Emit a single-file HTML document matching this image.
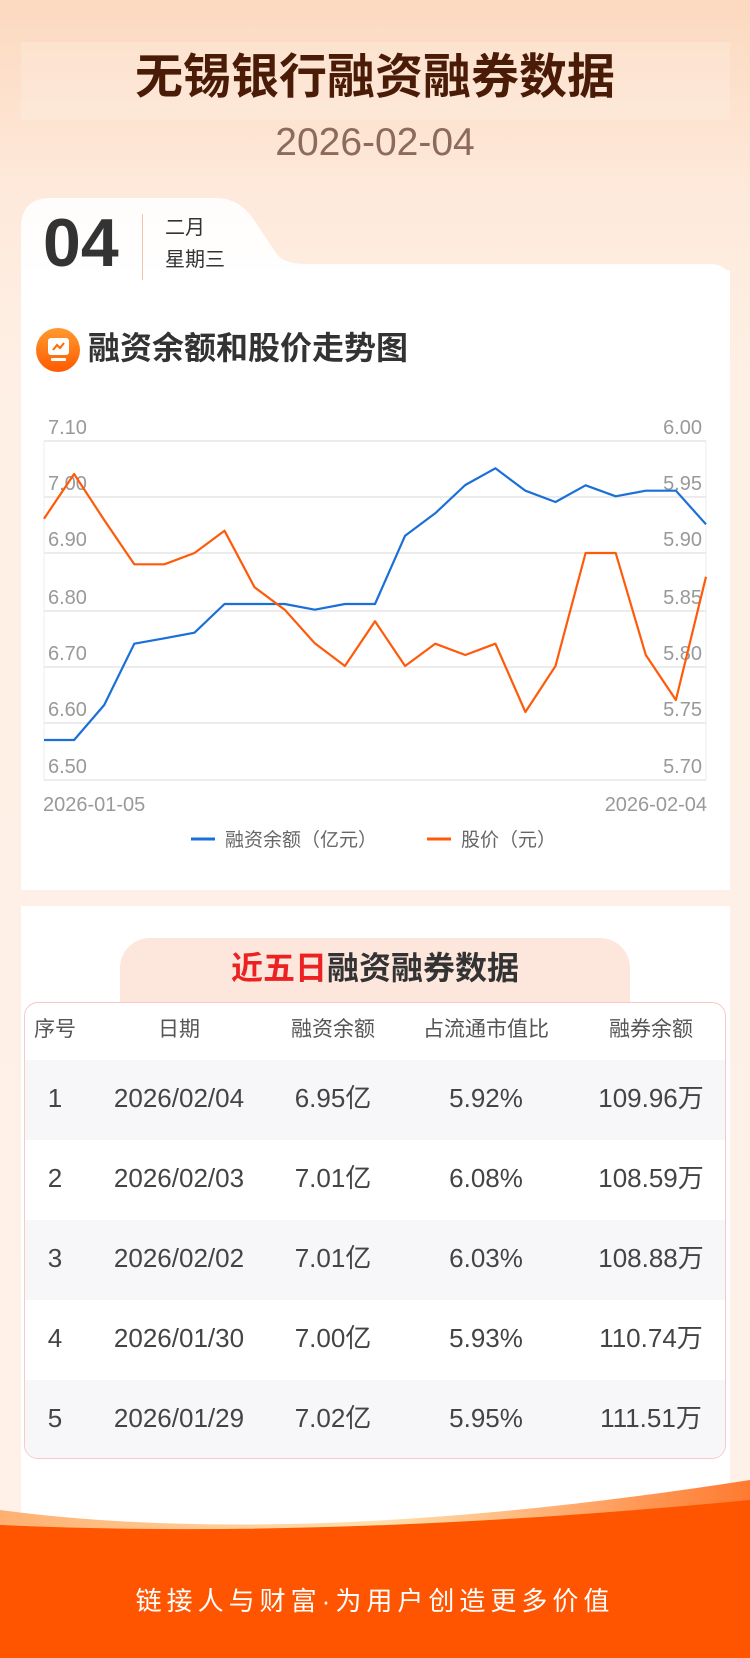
<!DOCTYPE html>
<html><head><meta charset="utf-8">
<style>
*{margin:0;padding:0;box-sizing:border-box}
body{width:750px;height:1658px;position:relative;overflow:hidden;font-family:"Liberation Sans","Noto Sans CJK SC",sans-serif;background:linear-gradient(180deg,#fcd9bf 0%,#feeadc 12%,#fff0e6 25%,#fff1e8 100%)}
.a{position:absolute}
.t{white-space:nowrap}
</style></head><body>
<div class="a" style="left:21px;top:42px;width:709px;height:78px;background:rgba(255,255,255,0.18)"></div>
<div class="a t" style="left:0;width:750px;top:50px;text-align:center;font-size:48px;font-weight:bold;color:#4a1c08;line-height:56px">无锡银行融资融券数据</div>
<div class="a t" style="left:0;width:750px;top:121px;text-align:center;font-size:39px;color:#8c6a5c;line-height:44px">2026-02-04</div>

<!-- date tab -->
<svg class="a" style="left:21px;top:198px" width="709" height="100">
<defs><linearGradient id="tg" x1="0" y1="0" x2="0" y2="1"><stop offset="0" stop-color="#fff" stop-opacity="0.9"/><stop offset="1" stop-color="#fff" stop-opacity="1"/></linearGradient></defs>
<path d="M0,30 Q0,0 30,0 L195,0 Q220,0 235,25 L255,55 Q262,66 285,66 L689,66 Q709,66 709,86 L709,100 L0,100 Z" fill="url(#tg)"/>
</svg>
<div class="a" style="left:21px;top:270px;width:709px;height:620px;background:#fff"></div>
<div class="a t" style="left:43px;top:205px;font-size:68px;font-weight:bold;color:#333;line-height:76px">04</div>
<div class="a" style="left:142px;top:214px;width:1px;height:66px;background:#f0c4b0"></div>
<div class="a t" style="left:165px;top:215px;font-size:20px;color:#333;line-height:26px">二月</div>
<div class="a t" style="left:165px;top:247px;font-size:20px;color:#333;line-height:26px">星期三</div>

<!-- chart title -->
<div class="a" style="left:36px;top:328px;width:44px;height:44px;border-radius:50%;background:linear-gradient(180deg,#ff9a2e,#ff5a00)"></div>
<div class="a" style="left:48px;top:338px;width:21px;height:17px;border-radius:3px;background:#fff"></div>
<div class="a" style="left:51px;top:358px;width:15px;height:3px;border-radius:1px;background:#fff"></div>
<svg class="a" style="left:51px;top:341px" width="15" height="11"><polyline points="2,9 6,4 9,7 13,2" fill="none" stroke="#ff6a00" stroke-width="2"/></svg>
<div class="a t" style="left:88px;top:328px;font-size:32px;font-weight:bold;color:#333;line-height:40px">融资余额和股价走势图</div>

<!-- chart -->
<svg class="a" style="left:0;top:0" width="750" height="900">
<g stroke="#ececec" stroke-width="2">
<line x1="44" y1="441" x2="706" y2="441"/><line x1="44" y1="497" x2="706" y2="497"/>
<line x1="44" y1="553" x2="706" y2="553"/><line x1="44" y1="611" x2="706" y2="611"/>
<line x1="44" y1="667" x2="706" y2="667"/><line x1="44" y1="723" x2="706" y2="723"/>
<line x1="44" y1="780" x2="706" y2="780"/>
<line x1="44" y1="441" x2="44" y2="780" stroke-width="1"/><line x1="706" y1="441" x2="706" y2="780" stroke-width="1"/>
</g>
<g font-family="Liberation Sans,sans-serif" font-size="20" fill="#999">
<text x="48" y="434">7.10</text><text x="48" y="490">7.00</text><text x="48" y="546">6.90</text>
<text x="48" y="604">6.80</text><text x="48" y="660">6.70</text><text x="48" y="716">6.60</text><text x="48" y="773">6.50</text>
<g text-anchor="end"><text x="702" y="434">6.00</text><text x="702" y="490">5.95</text><text x="702" y="546">5.90</text>
<text x="702" y="604">5.85</text><text x="702" y="660">5.80</text><text x="702" y="716">5.75</text><text x="702" y="773">5.70</text></g>
<text x="43" y="811">2026-01-05</text><text x="707" y="811" text-anchor="end">2026-02-04</text>
</g>
<polyline fill="none" stroke="#1a6fd8" stroke-width="2.2" stroke-linejoin="round" points="44,740 74.1,740 104.2,705 134.3,643.7 164.4,638.3 194.5,632.7 224.5,604 254.6,604 284.7,604 314.8,609.7 344.9,604 375,604 405.1,535.7 435.2,513.3 465.3,485 495.4,468.3 525.4,490.7 555.5,502 585.6,485.3 615.7,496.3 645.8,490.7 675.9,490.7 706,524.3"/>
<polyline fill="none" stroke="#ff5a0a" stroke-width="2.2" stroke-linejoin="round" points="44,518.7 74.1,474 104.2,520 134.3,564.3 164.4,564.3 194.5,553 224.5,530.7 254.6,587.3 284.7,609.7 314.8,643.3 344.9,666 375,621.3 405.1,666 435.2,643.7 465.3,655 495.4,643.7 525.4,712 555.5,666 585.6,553 615.7,553 645.8,655 675.9,700 706,576.7"/>
<line x1="191" y1="839" x2="215" y2="839" stroke="#1a6fd8" stroke-width="3"/>
<line x1="427" y1="839" x2="451" y2="839" stroke="#ff5a0a" stroke-width="3"/>
<g font-family="Liberation Sans,Noto Sans CJK SC,sans-serif" font-size="19" fill="#666">
<text x="225" y="846">融资余额（亿元）</text><text x="461" y="846">股价（元）</text></g>
</svg>

<!-- table card -->
<div class="a" style="left:21px;top:906px;width:709px;height:700px;background:#fff"></div>
<div class="a" style="left:120px;top:938px;width:510px;height:70px;border-radius:30px 30px 0 0;background:#fde7dd"></div>
<div class="a t" style="left:0;width:750px;top:948px;text-align:center;font-size:32px;font-weight:bold;color:#333;line-height:40px"><span style="color:#ec2222">近五日</span>融资融券数据</div>
<div class="a" style="left:24px;top:1002px;width:702px;height:457px;border:1px solid #f8c9c9;border-radius:14px;background:#fff;overflow:hidden">
<div class="a" style="left:0;top:57px;width:702px;height:80px;background:#f7f7f9"></div>
<div class="a" style="left:0;top:217px;width:702px;height:80px;background:#f7f7f9"></div>
<div class="a" style="left:0;top:377px;width:702px;height:80px;background:#f7f7f9"></div>
</div>
<style>.r{position:absolute;width:750px;left:0;height:40px;line-height:40px;color:#444;font-size:26px}.r span{position:absolute;transform:translateX(-50%);white-space:nowrap}.h{font-size:21px;color:#555}</style>
<div class="r h" style="top:1010px"><span style="left:55px">序号</span><span style="left:179px">日期</span><span style="left:333px">融资余额</span><span style="left:486px">占流通市值比</span><span style="left:651px">融券余额</span></div>
<div class="r" style="top:1078px"><span style="left:55px">1</span><span style="left:179px">2026/02/04</span><span style="left:333px">6.95亿</span><span style="left:486px">5.92%</span><span style="left:651px">109.96万</span></div>
<div class="r" style="top:1158px"><span style="left:55px">2</span><span style="left:179px">2026/02/03</span><span style="left:333px">7.01亿</span><span style="left:486px">6.08%</span><span style="left:651px">108.59万</span></div>
<div class="r" style="top:1238px"><span style="left:55px">3</span><span style="left:179px">2026/02/02</span><span style="left:333px">7.01亿</span><span style="left:486px">6.03%</span><span style="left:651px">108.88万</span></div>
<div class="r" style="top:1318px"><span style="left:55px">4</span><span style="left:179px">2026/01/30</span><span style="left:333px">7.00亿</span><span style="left:486px">5.93%</span><span style="left:651px">110.74万</span></div>
<div class="r" style="top:1398px"><span style="left:55px">5</span><span style="left:179px">2026/01/29</span><span style="left:333px">7.02亿</span><span style="left:486px">5.95%</span><span style="left:651px">111.51万</span></div>

<!-- footer -->
<svg class="a" style="left:0;top:1470px" width="750" height="188">
<defs><linearGradient id="fg" x1="0" y1="0" x2="1" y2="0"><stop offset="0" stop-color="#ffb070"/><stop offset="0.5" stop-color="#ffe0b0"/><stop offset="1" stop-color="#ff7a30"/></linearGradient></defs>
<path d="M0,40 Q300,80 750,10 L750,188 L0,188 Z" fill="url(#fg)"/>
<path d="M0,55 Q330,80 750,30 L750,188 L0,188 Z" fill="#ff5500"/>
<path d="M0,55 Q330,70 750,30 L750,40 Q330,80 0,62 Z" fill="#ff5500"/>
</svg>
<div class="a t" style="left:0;width:750px;top:1584px;text-align:center;font-size:26px;color:#fff;letter-spacing:5px;line-height:34px">链接人与财富·为用户创造更多价值</div>
</body></html>
